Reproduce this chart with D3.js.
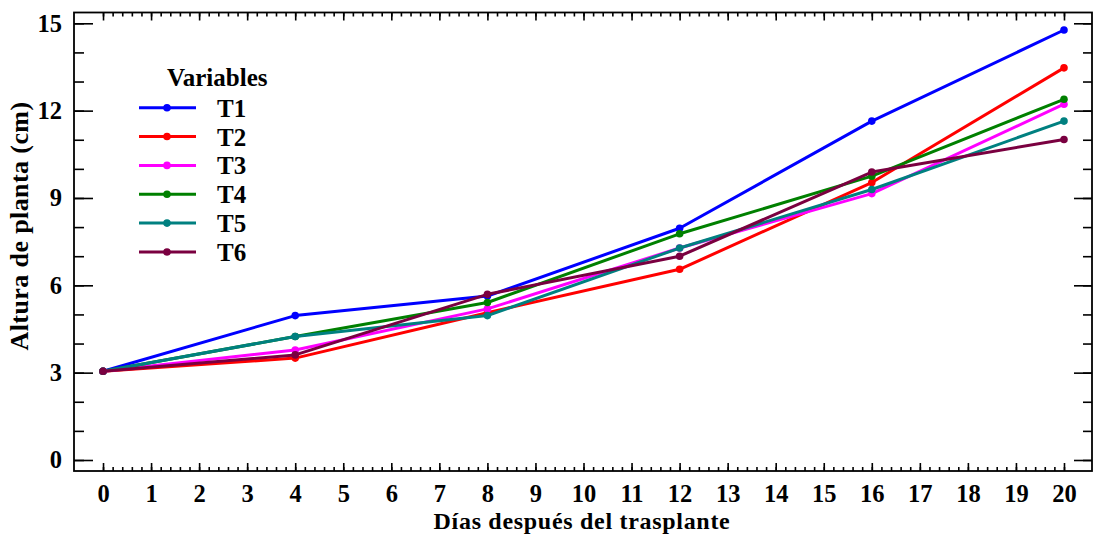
<!DOCTYPE html>
<html>
<head>
<meta charset="utf-8">
<script src="https://cdn.jsdelivr.net/npm/d3@7"></script>
<style>
  html, body { margin: 0; padding: 0; background: #ffffff; }
  svg { display: block; }
  text { font-family: "Liberation Serif", "Times New Roman", serif; font-weight: bold; fill: #000; }
</style>
</head>
<body>
<svg id="chart" width="1094" height="540"></svg>
<script>
// Days after transplant (x values)
const days = [0, 4, 8, 12, 16, 20];

// Series names and colours
const seriesNames = ["T1", "T2", "T3", "T4", "T5", "T6"];
const seriesColors = ["#0000ff", "#ff0000", "#ff00ff", "#008000", "#008080", "#7a0040"];

// Plant height (cm) for each treatment
const t1 = [3.05, 4.96, 5.63, 7.96, 11.64, 14.77];
const t2 = [3.05, 3.50, 5.06, 6.55, 9.53, 13.47];
const t3 = [3.05, 3.78, 5.19, 7.28, 9.15, 12.22];
const t4 = [3.05, 4.24, 5.41, 7.77, 9.75, 12.39];
const t5 = [3.05, 4.24, 4.96, 7.28, 9.29, 11.64];
const t6 = [3.05, 3.61, 5.69, 7.00, 9.89, 11.01];
const seriesValues = [t1, t2, t3, t4, t5, t6];

// Axis tick values
const xTicks = d3.range(0, 21, 1);
const xMinorTicks = d3.range(0, 100.5, 1).map(d => d / 5);
const yTicks = [0, 3, 6, 9, 12, 15];
const yMinorTicks = d3.range(0, 16, 1);

const titleX = "Días después del trasplante";
const titleY = "Altura de planta (cm)";
const legendTitle = "Variables";

const svg = d3.select("#chart");

const frame = { left: 74, right: 1092, top: 12.5, bottom: 471 };

const x = d3.scaleLinear().domain([-0.604, 20.583]).range([frame.left, frame.right]);
const y = d3.scaleLinear().domain([-0.378, 15.371]).range([frame.bottom, frame.top]);

const fontSize = 24.5;

// Bottom axis: labelled major ticks and minor ticks pointing inward
const axisB = svg.append("g").attr("transform", `translate(0,${frame.bottom})`);
axisB.call(d3.axisBottom(x).tickValues(xMinorTicks).tickSizeInner(-4).tickSizeOuter(0).tickFormat(""));
axisB.append("g").call(d3.axisBottom(x).tickValues(xTicks).tickSizeInner(-8).tickSizeOuter(0).tickPadding(13.5).tickFormat(d3.format("d")));

// Top axis: ticks only
const axisT = svg.append("g").attr("transform", `translate(0,${frame.top})`);
axisT.call(d3.axisTop(x).tickValues(xMinorTicks).tickSizeInner(-4).tickSizeOuter(0).tickFormat(""));
axisT.append("g").call(d3.axisTop(x).tickValues(xTicks).tickSizeInner(-8).tickSizeOuter(0).tickFormat(""));

// Left axis
const axisL = svg.append("g").attr("transform", `translate(${frame.left},0)`);
axisL.call(d3.axisLeft(y).tickValues(yMinorTicks).tickSizeInner(-10).tickSizeOuter(0).tickFormat(""));
axisL.append("g").call(d3.axisLeft(y).tickValues(yTicks).tickSizeInner(-19).tickSizeOuter(0).tickPadding(12).tickFormat(d3.format("d")));

// Right axis
const axisR = svg.append("g").attr("transform", `translate(${frame.right},0)`);
axisR.call(d3.axisRight(y).tickValues(yMinorTicks).tickSizeInner(-9).tickSizeOuter(0).tickFormat(""));
axisR.append("g").call(d3.axisRight(y).tickValues(yTicks).tickSizeInner(-18).tickSizeOuter(0).tickFormat(""));

svg.selectAll(".domain").remove();
svg.selectAll(".tick line").attr("stroke", "#000").attr("stroke-width", 1.6);
svg.selectAll(".tick text")
  .style("font-family", '"Liberation Serif", "Times New Roman", serif')
  .style("font-weight", "bold")
  .style("font-size", fontSize + "px")
  .attr("fill", "#000");

// Plot frame
svg.append("rect")
  .attr("x", frame.left).attr("y", frame.top)
  .attr("width", frame.right - frame.left).attr("height", frame.bottom - frame.top)
  .attr("fill", "none").attr("stroke", "#000").attr("stroke-width", 1.8);

// Series lines and markers
const line = d3.line().x((d, i) => x(days[i])).y(d => y(d));
const plot = svg.append("g");
seriesValues.forEach((vals, si) => {
  const g = plot.append("g");
  g.append("path")
    .attr("d", line(vals))
    .attr("fill", "none")
    .attr("stroke", seriesColors[si])
    .attr("stroke-width", 3)
    .attr("stroke-linejoin", "round");
  g.selectAll("circle").data(vals).join("circle")
    .attr("cx", (d, i) => x(days[i]))
    .attr("cy", d => y(d))
    .attr("r", 3.8)
    .attr("fill", seriesColors[si]);
});

// Axis titles
svg.append("text")
  .attr("x", 582)
  .attr("y", 529)
  .attr("text-anchor", "middle")
  .style("font-size", "24px")
  .style("letter-spacing", "0.7px")
  .text(titleX);

svg.append("text")
  .attr("transform", "translate(28,226) rotate(-90)")
  .attr("text-anchor", "middle")
  .style("font-size", "26px")
  .style("letter-spacing", "0.4px")
  .text(titleY);

// Legend
const legend = svg.append("g");
legend.append("text")
  .attr("x", 167).attr("y", 86)
  .style("font-size", "25px")
  .text(legendTitle);
const rowY = i => 107.7 + i * 28.85;
seriesNames.forEach((name, i) => {
  const r = legend.append("g").attr("transform", `translate(0,${rowY(i)})`);
  r.append("line").attr("x1", 139).attr("x2", 196).attr("y1", 0).attr("y2", 0)
    .attr("stroke", seriesColors[i]).attr("stroke-width", 3);
  r.append("circle").attr("cx", 167).attr("cy", 0).attr("r", 3.8).attr("fill", seriesColors[i]);
  r.append("text").attr("x", 217).attr("y", 0).attr("dy", "0.36em")
    .style("font-size", "25px")
    .text(name);
});
</script>
</body>
</html>
